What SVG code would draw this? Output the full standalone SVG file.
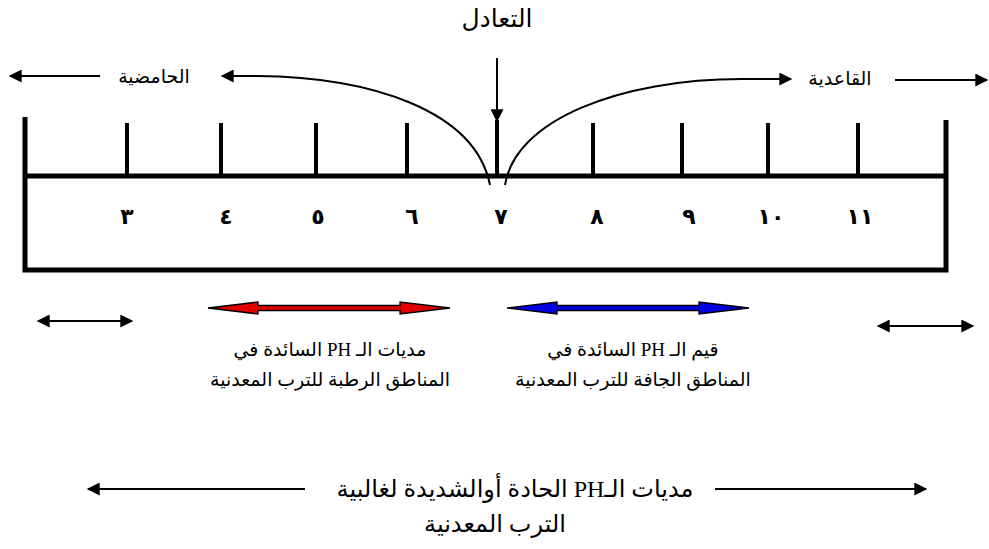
<svg xmlns="http://www.w3.org/2000/svg" width="989" height="549" viewBox="0 0 989 549">
<style>
.t{font-family:"Liberation Serif","DejaVu Sans",serif;fill:#000;text-anchor:middle;direction:rtl;unicode-bidi:embed}
.lbl{font-size:19px}
.num{font-family:"DejaVu Sans",sans-serif;font-size:22px;font-weight:bold;text-anchor:middle;fill:#000;direction:rtl}
.ln{stroke:#000;fill:none}
.tick{stroke:#000;stroke-width:4;fill:none}
</style>
<defs>
<marker id="ah" viewBox="0 0 10 10" refX="9" refY="5" markerWidth="16" markerHeight="13" markerUnits="userSpaceOnUse" orient="auto-start-reverse">
<path d="M0,0 L10,5 L0,10 z" fill="#000"/>
</marker>
</defs>
<g id="scale">
<path class="ln" stroke-width="5" d="M25,117 V270 H946 V120 M25,176 H946"/>
<path class="tick" d="M127,123V176 M221,123V176 M316,123V176 M407,123V176 M593,123V176 M682,123V176 M768,123V176 M858,123V176"/>
<path class="ln" stroke-width="4" d="M497,120V178"/>
</g>
<g id="numbers">
<text class="num" x="127" y="224">٣</text>
<text class="num" x="226" y="224">٤</text>
<text class="num" x="318" y="224">٥</text>
<text class="num" x="412" y="224">٦</text>
<text class="num" x="501" y="224">٧</text>
<text class="num" x="597" y="224">٨</text>
<text class="num" x="689" y="224">٩</text>
<text class="num" x="771" y="224">١٠</text>
<text class="num" x="860" y="224">١١</text>
</g>
<g id="neutral">
<text class="t" x="497" y="27" font-size="25">التعادل</text>
</g>
<g id="acid">
<text class="t lbl" x="154" y="83">الحامضية</text>
</g>
<g id="base">
<text class="t lbl" x="840" y="85">القاعدية</text>
</g>
<g id="connectors">
<path class="ln" stroke-width="2" d="M497,58V121" marker-end="url(#ah)"/>
<path class="ln" stroke-width="2" d="M490,185 C475,110 370,77 257,76 H222" marker-end="url(#ah)"/>
<path class="ln" stroke-width="2" d="M505,185 C515,120 620,79 742,79 H791" marker-end="url(#ah)"/>
<path class="ln" stroke-width="2" d="M100,76H10" marker-end="url(#ah)"/>
<path class="ln" stroke-width="2" d="M895,80H987" marker-end="url(#ah)"/>
<path class="ln" stroke-width="2" d="M38,321H132" marker-start="url(#ah)" marker-end="url(#ah)"/>
<path class="ln" stroke-width="2" d="M878,326H973" marker-start="url(#ah)" marker-end="url(#ah)"/>
<path class="ln" stroke-width="2" d="M305,489H88" marker-end="url(#ah)"/>
<path class="ln" stroke-width="2" d="M715,489H926" marker-end="url(#ah)"/>
<polygon points="208,308 258,302 258,305.5 400,305.5 400,302 450,308 400,314 400,310.5 258,310.5 258,314" fill="#e00000" stroke="#000" stroke-width="1.3"/>
<polygon points="507,308 557,302 557,305.5 699,305.5 699,302 749,308 699,314 699,310.5 557,310.5 557,314" fill="#0000e0" stroke="#000" stroke-width="1.3"/>
</g>
<g id="humid">
<text class="t lbl" x="330" y="356">مديات الـ PH السائدة في</text>
<text class="t lbl" x="330" y="386">المناطق الرطبة للترب المعدنية</text>
</g>
<g id="arid">
<text class="t lbl" x="633" y="356">قيم الـ PH السائدة في</text>
<text class="t lbl" x="633" y="386">المناطق الجافة للترب المعدنية</text>
</g>
<g id="extreme">
<text class="t" font-size="24" x="515" y="497">مديات الـPH الحادة أوالشديدة لغالبية</text>
<text class="t" font-size="24" x="495" y="532">الترب المعدنية</text>
</g>
</svg>
